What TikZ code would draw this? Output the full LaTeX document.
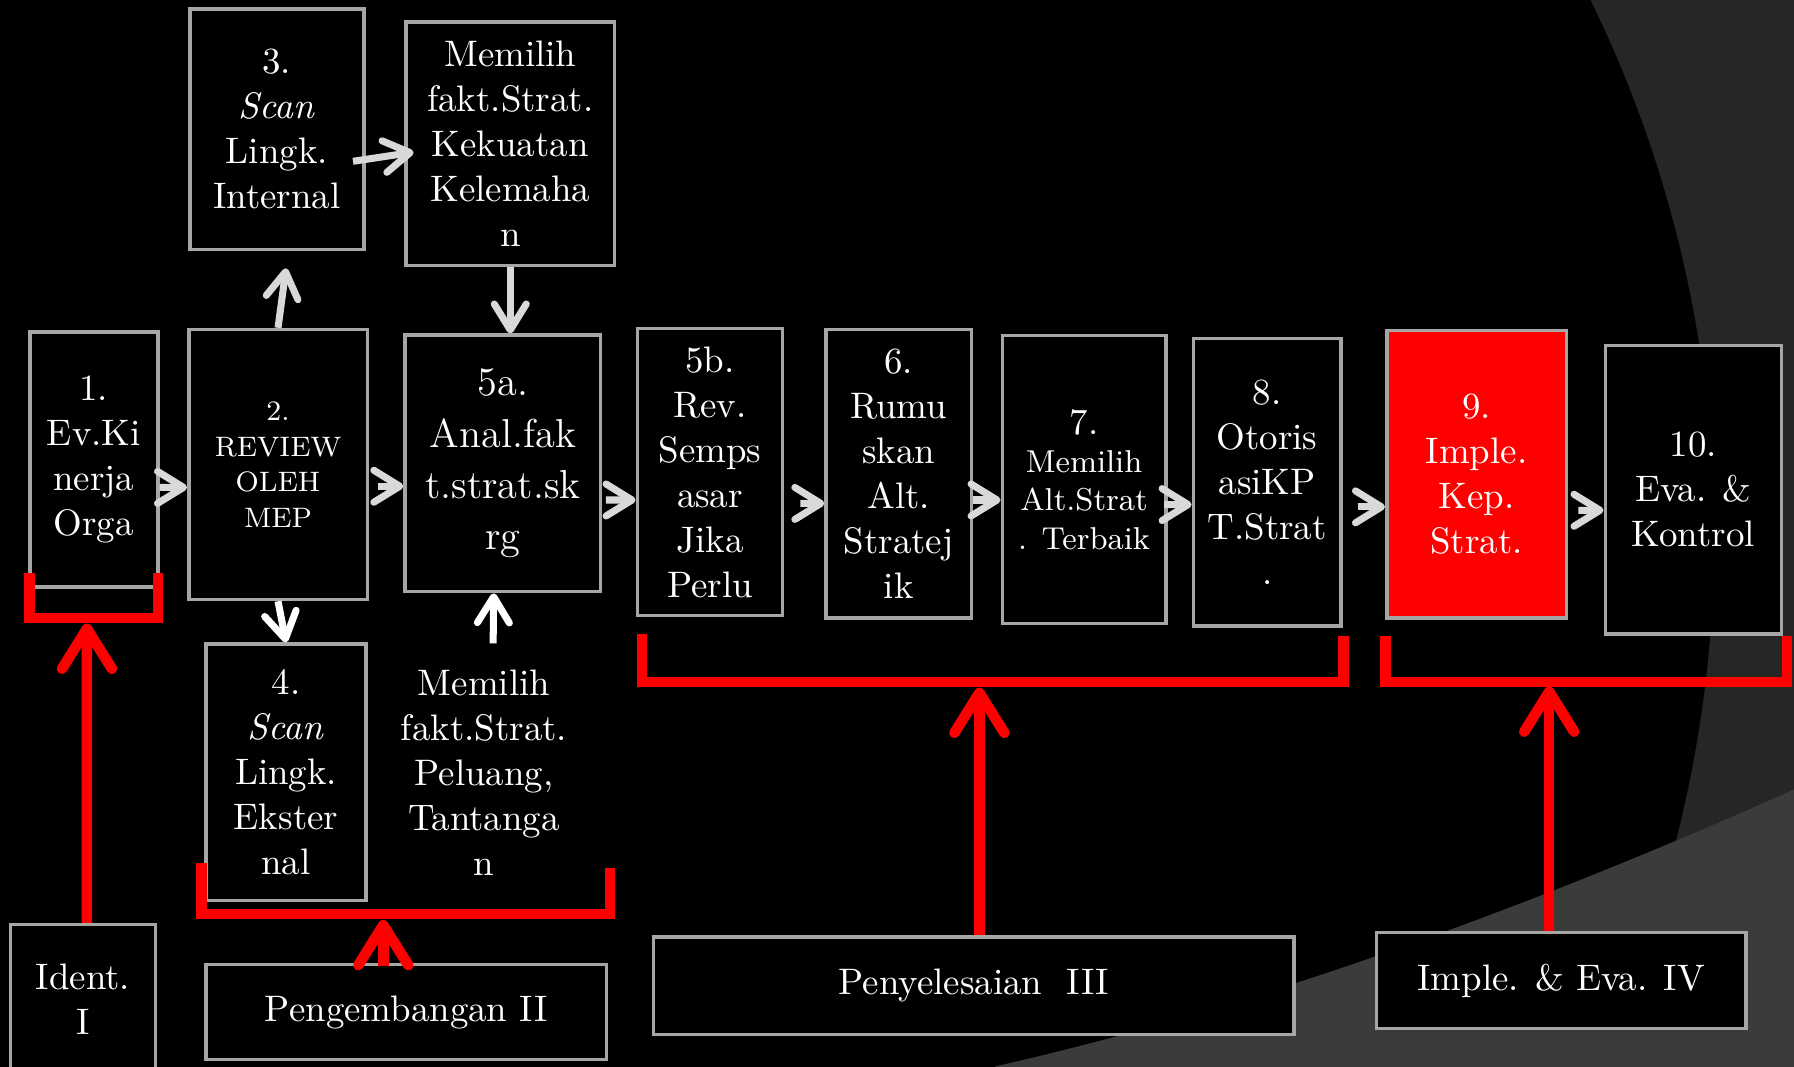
\documentclass[tikz,border=0pt]{standalone}
\usepackage{fontspec}
\usetikzlibrary{arrows.meta}
\definecolor{boxgrey}{HTML}{A6A6A6}
\definecolor{arrgrey}{HTML}{D9D9D9}
\definecolor{bgdark}{HTML}{262626}
\definecolor{bgband}{HTML}{3B3B3B}
\begin{document}
\begin{tikzpicture}
[x=0.011441cm,y=-0.011441cm,%
  flowbox/.style={draw=boxgrey,line width=1pt,fill=black,text=white,align=center,inner sep=0pt,%
    font=\fontsize{10.5}{12.8}\selectfont},%
  freetext/.style={text=white,align=center,font=\fontsize{10.5}{12.8}\selectfont},%
  garrow/.style={-{Straight Barb[length=2.6mm,width=3.2mm,round]},arrgrey,line width=2pt},%
  rarrow/.style={-{Straight Barb[length=4mm,width=5mm,round]},red,line width=3pt},%
  bracket/.style={red,line width=3pt}]
\useasboundingbox (0,0) rectangle (1568,932);
\fill[bgdark] (-20,-20) rectangle (1590,950);
\fill[black] (431.4,468.6) circle (1066.8);
\fill[bgband] (855,950) -- (870,932) .. controls (1100,880) and (1340,792) .. (1568,690)
  -- (1590,680) -- (1590,950) -- cycle;

\node[flowbox,minimum width=1.739cm,minimum height=2.403cm] (n3) at (242,113)
  {3.\\ \textit{Scan}\\ Lingk.\\ Internal};
\node[flowbox,minimum width=2.082cm,minimum height=2.437cm] (kuat) at (446,125.5)
  {Memilih\\ fakt.Strat.\\ Kekuatan\\ Kelemaha\\ n};
\node[flowbox,minimum width=1.281cm,minimum height=2.551cm] (n1) at (82,401.5)
  {1.\\ Ev.Ki\\ nerja\\ Orga};
\node[flowbox,minimum width=1.785cm,minimum height=2.700cm,font=\fontsize{8}{10.1}\selectfont] (n2) at (243,406)
  {2.\\ REVIEW\\ OLEH\\ MEP};
\node[flowbox,minimum width=1.956cm,minimum height=2.563cm,font=\fontsize{11.5}{14.6}\selectfont] (n5a) at (439.5,405)
  {5a.\\ Anal.fak\\ t.strat.sk\\ rg};
\node[flowbox,minimum width=1.602cm,minimum height=2.563cm] (n4) at (250,675)
  {4.\\ \textit{Scan}\\ Lingk.\\ Ekster\\ nal};
\node[freetext] (pel) at (423,675)
  {Memilih\\ fakt.Strat.\\ Peluang,\\ Tantanga\\ n};
\node[flowbox,minimum width=1.453cm,minimum height=2.872cm] (n5b) at (620.5,412.5)
  {5b.\\ Rev.\\ Semps\\ asar\\ Jika\\ Perlu};
\node[flowbox,minimum width=1.453cm,minimum height=2.883cm] (n6) at (785.5,414)
  {6.\\ Rumu\\ skan\\ Alt.\\ Stratej\\ ik};
\node[flowbox,minimum width=1.636cm,minimum height=2.883cm,font=\fontsize{9}{10.9}\selectfont] (n7) at (947.5,419)
  {{\fontsize{10.5}{12.8}\selectfont 7.}\\ Memilih\\ Alt.Strat\\ . Terbaik};
\node[flowbox,minimum width=1.476cm,minimum height=2.872cm] (n8) at (1107.5,421.5)
  {8.\\ Otoris\\ asiKP\\ T.Strat\\ .};
\node[flowbox,fill=red,minimum width=1.796cm,minimum height=2.872cm] (n9) at (1290.5,414.5)
  {9.\\ Imple.\\ Kep.\\ Strat.};
\node[flowbox,minimum width=1.762cm,minimum height=2.883cm] (n10) at (1480,428)
  {10.\\ Eva. \&\\ Kontrol};

\node[flowbox,minimum width=1.453cm,minimum height=1.487cm] (ident) at (72.5,873)
  {Ident.\\ I};
\node[flowbox,minimum width=4.004cm,minimum height=0.950cm] (peng) at (355,884.5)
  {Pengembangan II};
\node[flowbox,minimum width=6.407cm,minimum height=0.972cm] (peny) at (851,861.5)
  {Penyelesaian\ \ III};
\node[flowbox,minimum width=3.695cm,minimum height=0.961cm] (impl) at (1364.5,857)
  {Imple. \& Eva. IV};

\draw[garrow] ([shift={(0,24.5)}]n1.east) -- ([shift={(0,20)}]n2.west);
\draw[garrow] ([shift={(8,19)}]n2.east) -- ([shift={(0,20)}]n5a.west);
\draw[garrow] ([shift={(3,32)}]n5a.east) -- ([shift={(0,24.5)}]n5b.west);
\draw[garrow] ([shift={(14,27.5)}]n5b.east) -- ([shift={(0,26)}]n6.west);
\draw[garrow] ([shift={(0,23)}]n6.east) -- ([shift={(0,18)}]n7.west);
\draw[garrow] ([shift={(-3,22)}]n7.east) -- ([shift={(0,19.5)}]n8.west);
\draw[garrow] ([shift={(13,21.5)}]n8.east) -- ([shift={(0,28.5)}]n9.west);
\draw[garrow] ([shift={(9,31.5)}]n9.east) -- ([shift={(0,18)}]n10.west);
\draw[garrow] (n2.north) -- ([shift={(8,15)}]n3.south);
\draw[garrow] ([shift={(-11,28)}]n3.east) -- ([shift={(8,7.5)}]kuat.west);
\draw[garrow] (kuat.south) -- (kuat.south |- n5a.north);
\draw[garrow,white] (n2.south) -- (n4.north);
\draw[garrow,white] ([shift={(8,-12)}]pel.north) -- ([shift={(-8,0)}]n5a.south);

\coordinate (k1) at (76,545);
\coordinate (k2) at (335,804);
\coordinate (k3) at (856,601);
\coordinate (k4) at (1354,600);
\draw[bracket] (26,501) |- (138,540) -- (138,501);
\draw[bracket] (176,754) |- (533,799) -- (533,759);
\draw[bracket] (561,554) |- (1174,596) -- (1174,556);
\draw[bracket] (1211,556) |- (1562,596) -- (1562,556);
\draw[rarrow] ([shift={(3.5,0)}]ident.north) -- (k1);
\draw[rarrow] ([shift={(-20,3)}]peng.north) -- (k2);
\draw[rarrow] ([shift={(5,0)}]peny.north) -- (k3);
\draw[rarrow] ([shift={(-10.5,0)}]impl.north) -- (k4);
\end{tikzpicture}
\end{document}
